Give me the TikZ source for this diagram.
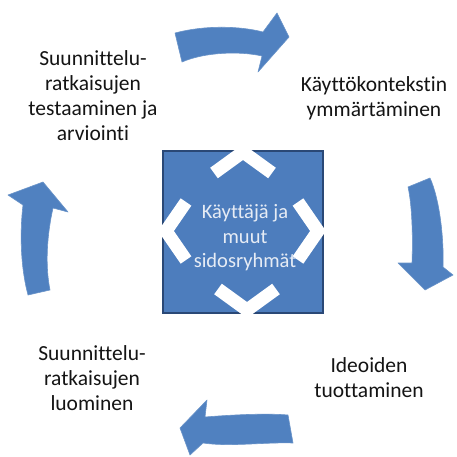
\documentclass[tikz,border=0pt]{standalone}
\usepackage{fontspec}
\setmainfont[Ligatures={NoCommon}]{Carlito}
\definecolor{arrowblue}{HTML}{5081C0}
\definecolor{boxblue}{HTML}{4D7DBD}
\definecolor{boxedge}{HTML}{2A4876}
\definecolor{labeltext}{HTML}{141414}
\definecolor{centertext}{HTML}{E6ECF5}
\tikzset{
  cyclearrow/.style={fill=arrowblue, draw=arrowblue!85!white, line width=0.6pt, line join=round},
  notch/.style={draw=white, line width=13pt, line join=miter, line cap=butt},
  label/.style={align=center, text=labeltext, font=\fontsize{21.5}{25}\selectfont, inner sep=0pt},
  centerlabel/.style={align=center, text=centertext, font=\fontsize{20.5}{24.5}\selectfont, inner sep=0pt}
}
\begin{document}
\begin{tikzpicture}[x=1pt, y=-1pt]
\useasboundingbox (0,0) rectangle (456,457);
\fill[white] (0,0) rectangle (456,457);

% central box
\node[draw=boxedge, fill=boxblue, line width=1.8pt, minimum width=160pt, minimum height=162pt, inner sep=0pt] (box) at (243,232) {};
% white notches (outward chevrons)
\draw[notch] (214,173) -- (243,152) -- (272,173);
\draw[notch] (186,202) -- (166,231) -- (186,260);
\draw[notch] (298,202) -- (318,231) -- (298,260);
\draw[notch] (218,289) -- (247,310) -- (276,289);
\node[centerlabel] (center) at (245,238) {Käyttäjä ja\\muut\\sidosryhmät};

% cycle arrows
\path[cyclearrow] (175,33) .. controls (205,25) and (240,26) .. (263,32) -- (277,13) -- (289,37) -- (258,72) -- (262,56) .. controls (240,51) and (205,52) .. (182,62) -- cycle;
\path[cyclearrow] (408,187) -- (430,178) .. controls (440,200) and (444,240) .. (443,267) -- (453,275) -- (425,290) -- (398,263) -- (412,263) .. controls (413,235) and (412,205) .. (408,187) -- cycle;
\path[cyclearrow] (288,415) -- (293,443) .. controls (265,442) and (230,447) .. (203,443) -- (190,455) -- (180,428) -- (207,400) -- (205,417) .. controls (230,415) and (265,413) .. (288,415) -- cycle;
\path[cyclearrow] (28,295) .. controls (20,265) and (20,230) .. (23,205) -- (8,195) -- (43,182) -- (68,212) -- (53,208) .. controls (47,235) and (45,265) .. (50,290) -- cycle;

% stage labels
\node[label] (testing) at (93,96) {Suunnittelu-\\ratkaisujen\\testaaminen ja\\arviointi};
\node[label] (context) at (374,98) {Käyttökontekstin\\ymmärtäminen};
\node[label] (ideas) at (369,378) {Ideoiden\\tuottaminen};
\node[label] (design) at (92,378) {Suunnittelu-\\ratkaisujen\\luominen};
\end{tikzpicture}
\end{document}
